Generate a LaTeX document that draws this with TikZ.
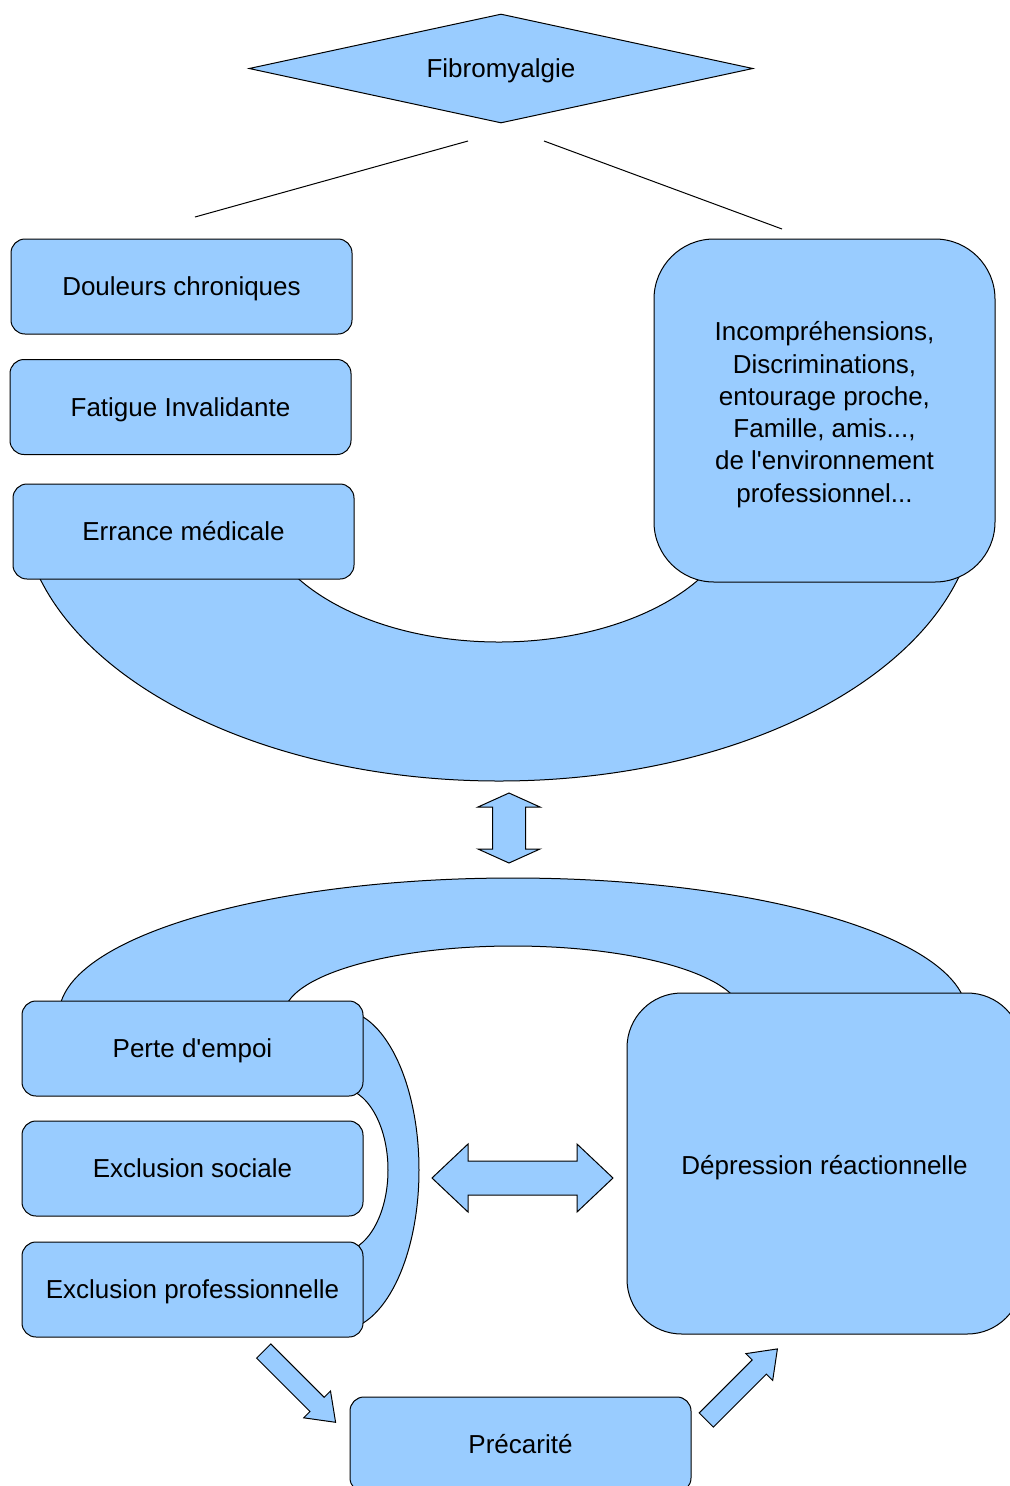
\documentclass[tikz,border=0pt]{standalone}
\usepackage{fontspec}
\setmainfont{Liberation Sans}
\usepackage{tikz}
\usetikzlibrary{shapes.geometric}
\definecolor{fibroblue}{RGB}{153,204,255}
\newcommand{\boxfont}{\fontsize{19.5pt}{24.2pt}\selectfont}
\tikzset{
  blueshape/.style={draw=black, fill=fibroblue, line width=0.75pt},
  lotext/.style={font=\boxfont, execute at begin node={\rule{0pt}{17.65pt}}, execute at end node={\rule[-4.13pt]{0pt}{4.13pt}}},
  smallbox/.style={blueshape, lotext, rounded corners=10.5pt, minimum width=255.75pt, minimum height=71.25pt, inner sep=0pt},
  bigbox/.style={blueshape, lotext, inner sep=0pt, align=center},
  thinline/.style={draw=black, line width=0.75pt}
}
\begin{document}
\begin{tikzpicture}[x=0.75pt,y=0.75pt,yscale=-1,xscale=1]
        \useasboundingbox (0,0) rectangle (1010,1486);
        \clip (0,0) rectangle (1010,1486);

        \draw [blueshape] (977,500) arc [start angle=0, end angle=180, x radius=478, y radius=281] -- (258,500) arc [start angle=180, end angle=0, x radius=241, y radius=142] -- cycle ;
        \draw [blueshape] (59,1015) arc [start angle=180, end angle=360, x radius=454, y radius=137] -- (742,1015) arc [start angle=0, end angle=-180, x radius=229, y radius=69] -- cycle ;
        \draw [blueshape] (340,1010) arc [start angle=-90, end angle=90, x radius=79, y radius=160] -- (340,1252) arc [start angle=90, end angle=-90, x radius=48, y radius=82] -- cycle ;

        \draw [blueshape] (509,793) -- (540,807) -- (525.5,807) -- (525.5,849) -- (540,849) -- (509,863) -- (478,849) -- (492.5,849) -- (492.5,807) -- (478,807) -- cycle ;
        \draw [blueshape] (432,1178) -- (468,1144) -- (468,1161) -- (577,1161) -- (577,1144) -- (613,1178) -- (577,1212) -- (577,1195) -- (468,1195) -- (468,1212) -- cycle ;
        \draw [blueshape] (270.8,1343.9) -- (324.2,1397.3) -- (330.5,1391.0) -- (335.6,1422.3) -- (303.7,1417.8) -- (310.0,1411.5) -- (256.6,1358.1) -- cycle ;
        \draw [blueshape] (699.2,1412.9) -- (752.2,1359.9) -- (745.9,1353.6) -- (777.4,1348.9) -- (772.7,1380.4) -- (766.4,1374.1) -- (713.4,1427.1) -- cycle ;

        \node [blueshape, lotext, diamond, aspect=4.6, minimum width=378pt, minimum height=81.75pt, inner sep=0pt] (fibro) at (501,68.5) {Fibromyalgie};
        \coordinate (fibroL) at (468,141);
        \coordinate (fibroR) at (544,141);
        \coordinate (douleursT) at (195,217);
        \coordinate (incompT) at (782,229);
        \draw [thinline] (fibroL) -- (douleursT) ;
        \draw [thinline] (fibroR) -- (incompT) ;

        \node [smallbox] (douleurs) at (181.5,286.5) {Douleurs chroniques};
        \node [smallbox] (fatigue) at (180.5,407) {Fatigue Invalidante};
        \node [smallbox] (errance) at (183.5,531.5) {Errance médicale};
        \node [bigbox, rounded corners=45pt, minimum width=255.75pt, minimum height=257.25pt] (incomp) at (824.5,410.5) {\rule{0pt}{20.6pt}Incompréhensions,\\Discriminations,\\entourage proche,\\Famille, amis...,\\de l\textquotesingle environnement\\professionnel...};

        \node [smallbox] (perte) at (192.5,1048.5) {Perte d\textquotesingle empoi};
        \node [smallbox] (exclsoc) at (192.5,1168.5) {Exclusion sociale};
        \node [smallbox] (exclpro) at (192.5,1289.5) {Exclusion professionnelle};
        \node [bigbox, rounded corners=41pt, minimum width=296.25pt, minimum height=255.75pt] (depression) at (824.5,1163.5) {\rule{0pt}{19.9pt}Dépression réactionnelle};
        \node [smallbox] (precarite) at (520.5,1444.5) {Précarité};

    \end{tikzpicture}
\end{document}
